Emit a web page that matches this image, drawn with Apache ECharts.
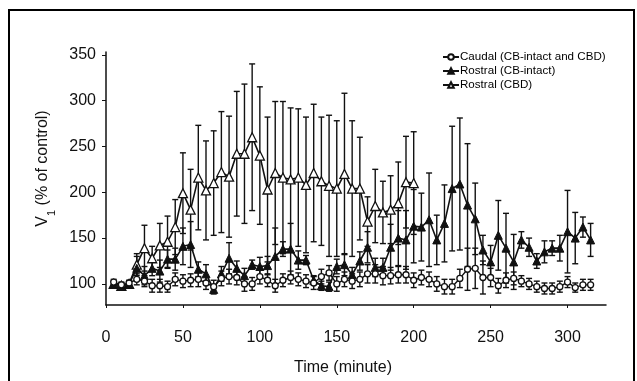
<!DOCTYPE html>
<html>
<head>
<meta charset="utf-8">
<script src="https://cdn.jsdelivr.net/npm/echarts@6/dist/echarts.min.js"></script>
<style>
  html, body { margin: 0; padding: 0; background: #fff; }
  #chart { width: 637px; height: 381px; }
</style>
</head>
<body>
<div id="chart"></div>
<script>
// time points (minute)
const times = [5, 10, 15, 20, 25, 30, 35, 40, 45, 50, 55, 60, 65, 70, 75, 80, 85, 90, 95, 100,
  105, 110, 115, 120, 125, 130, 135, 140, 145, 150, 155, 160, 165, 170, 175, 180, 185, 190, 195, 200,
  205, 210, 215, 220, 225, 230, 235, 240, 245, 250, 255, 260, 265, 270, 275, 280, 285, 290, 295, 300,
  305, 310, 315];

const caudal = [102, 99, 101, 105, 103, 98, 98, 97, 105, 103, 104, 105, 101, 97, 106, 108, 107, 100, 100, 108,
  104, 98, 104, 107, 105, 103, 101, 108, 112, 100, 105, 103, 105, 111, 111, 109, 109, 110, 110, 104,
  107, 105, 100, 97, 97, 106, 116, 117, 107, 107, 98, 104, 106, 103, 100, 97, 95, 95, 97, 102,
  96, 99, 99];
const caudalErr = [3, 3, 3, 6, 6, 7, 7, 6, 7, 7, 7, 8, 7, 7, 8, 8, 8, 8, 7, 8,
  7, 7, 7, 7, 7, 7, 7, 8, 8, 8, 8, 8, 8, 10, 10, 10, 9, 9, 9, 8,
  8, 8, 8, 8, 8, 10, 23, 22, 18, 10, 8, 8, 7, 6, 6, 6, 6, 6, 6, 6,
  5, 6, 6];

const rostralIntact = [100, 98, 100, 117, 109, 117, 114, 127, 127, 141, 143, 116, 111, 94, 111, 128, 117, 109, 121, 119,
  120, 130, 138, 138, 126, 126, 104, 98, 97, 119, 121, 110, 125, 140, 118, 118, 140, 150, 148, 163,
  162, 170, 148, 166, 204, 209, 186, 171, 137, 124, 153, 139, 124, 148, 140, 125, 135, 139, 139, 157,
  150, 162, 148];
const rostralIntactErr = [3, 3, 3, 13, 10, 8, 12, 10, 12, 20, 25, 8, 10, 5, 8, 17, 8, 8, 5, 10,
  10, 31, 8, 28, 10, 5, 5, 5, 5, 8, 12, 8, 10, 17, 10, 10, 25, 30, 32, 40,
  37, 51, 27, 42, 68, 72, 67, 39, 16, 18, 38, 38, 30, 9, 10, 8, 12, 8, 14, 45,
  28, 11, 18];

const rostralCbd = [100, 98, 100, 121, 139, 128, 142, 146, 162, 199, 181, 216, 202, 210, 222, 217, 242, 242, 260, 240,
  203, 221, 216, 214, 216, 208, 221, 212, 207, 204, 220, 204, 204, 168, 185, 178, 181, 188, 211, 210];
const rostralCbdErr = [3, 3, 3, 12, 25, 13, 24, 28, 30, 44, 44, 57, 54, 57, 66, 66, 68, 76, 80, 75,
  79, 78, 83, 78, 75, 74, 75, 70, 77, 74, 88, 74, 56, 27, 40, 34, 37, 45, 50, 56];

const xTicks = [0, 50, 100, 150, 200, 250, 300];
const yTicks = [100, 150, 200, 250, 300, 350];

const names = ["Caudal (CB-intact and CBD)", "Rostral (CB-intact)", "Rostral (CBD)"];

function points(vals) {
  return vals.map((v, i) => [times[i], v]);
}
function bars(vals, errs) {
  return vals.map((v, i) => [times[i], v - errs[i], v + errs[i]]);
}

function renderErr(params, api) {
  const lo = api.coord([api.value(0), api.value(1)]);
  const hi = api.coord([api.value(0), api.value(2)]);
  const cap = 3;
  const st = { stroke: "#111", lineWidth: 1.4 };
  return {
    type: "group",
    children: [
      { type: "line", shape: { x1: lo[0], y1: lo[1], x2: hi[0], y2: hi[1] }, style: st },
      { type: "line", shape: { x1: hi[0] - cap, y1: hi[1], x2: hi[0] + cap, y2: hi[1] }, style: st },
      { type: "line", shape: { x1: lo[0] - cap, y1: lo[1], x2: lo[0] + cap, y2: lo[1] }, style: st },
    ],
  };
}

const font = "Arial, 'Liberation Sans', sans-serif";
const chart = echarts.init(document.getElementById("chart"), null, { renderer: "canvas" });

const option = {
  animation: false,
  backgroundColor: "#fff",
  textStyle: { fontFamily: font },
  graphic: [
    {
      type: "rect",
      z: -1,
      shape: { x: 9, y: 10, width: 625, height: 400 },
      style: { fill: "none", stroke: "#000", lineWidth: 2 },
    },
  ],
  grid: { left: 106, right: 31, top: 52, bottom: 74 },
  legend: {
    data: names,
    orient: "vertical",
    left: 437,
    top: 46,
    itemWidth: 16,
    itemHeight: 7,
    itemGap: 2,
    textStyle: { fontSize: 11.6, color: "#000", fontFamily: font, padding: [0, 0, 0, -4] },
  },
  xAxis: {
    type: "value",
    min: 0,
    max: 325,
    name: "Time (minute)",
    nameLocation: "middle",
    nameGap: 55,
    nameTextStyle: { fontSize: 16, color: "#111", padding: [0, 26, 0, 0] },
    axisLine: { lineStyle: { color: "#111", width: 1.5 } },
    axisTick: { show: true, length: 3, customValues: xTicks, lineStyle: { color: "#111" } },
    axisLabel: { customValues: xTicks, fontSize: 16, color: "#111", margin: 25 },
    splitLine: { show: false },
  },
  yAxis: {
    type: "value",
    min: 77,
    max: 353,
    name: "V{sub|1} (% of control)",
    nameLocation: "middle",
    nameGap: 55,
    nameRotate: 90,
    nameTextStyle: {
      fontSize: 16,
      color: "#111",
      padding: [0, 0, 0, 20],
      rich: { sub: { fontSize: 11, verticalAlign: "bottom", padding: [0, 0, -6, 0] } },
    },
    axisLine: { show: true, lineStyle: { color: "#111", width: 1.5 } },
    axisTick: { show: true, length: 4, customValues: yTicks, lineStyle: { color: "#111" } },
    axisLabel: { customValues: yTicks, fontSize: 16, color: "#111", margin: 10 },
    splitLine: { show: false },
  },
  series: [
    { type: "custom", name: "errCaudal", renderItem: renderErr, data: bars(caudal, caudalErr), z: 1, silent: true },
    { type: "custom", name: "errIntact", renderItem: renderErr, data: bars(rostralIntact, rostralIntactErr), z: 1, silent: true },
    { type: "custom", name: "errCbd", renderItem: renderErr, data: bars(rostralCbd, rostralCbdErr), z: 1, silent: true },
    {
      type: "line",
      name: names[2],
      data: points(rostralCbd),
      symbol: "triangle",
      symbolSize: 9,
      z: 3,
      lineStyle: { color: "#111", width: 1.6 },
      itemStyle: { color: "#fff", borderColor: "#111", borderWidth: 1.3 },
    },
    {
      type: "line",
      name: names[1],
      data: points(rostralIntact),
      symbol: "triangle",
      symbolSize: 8,
      z: 4,
      lineStyle: { color: "#111", width: 1.6 },
      itemStyle: { color: "#111", borderColor: "#111", borderWidth: 1 },
    },
    {
      type: "line",
      name: names[0],
      data: points(caudal),
      symbol: "circle",
      symbolSize: 6,
      z: 5,
      lineStyle: { color: "#111", width: 1.4 },
      itemStyle: { color: "#fff", borderColor: "#111", borderWidth: 1.3 },
    },
  ],
};
chart.setOption(option);
</script>
</body>
</html>
